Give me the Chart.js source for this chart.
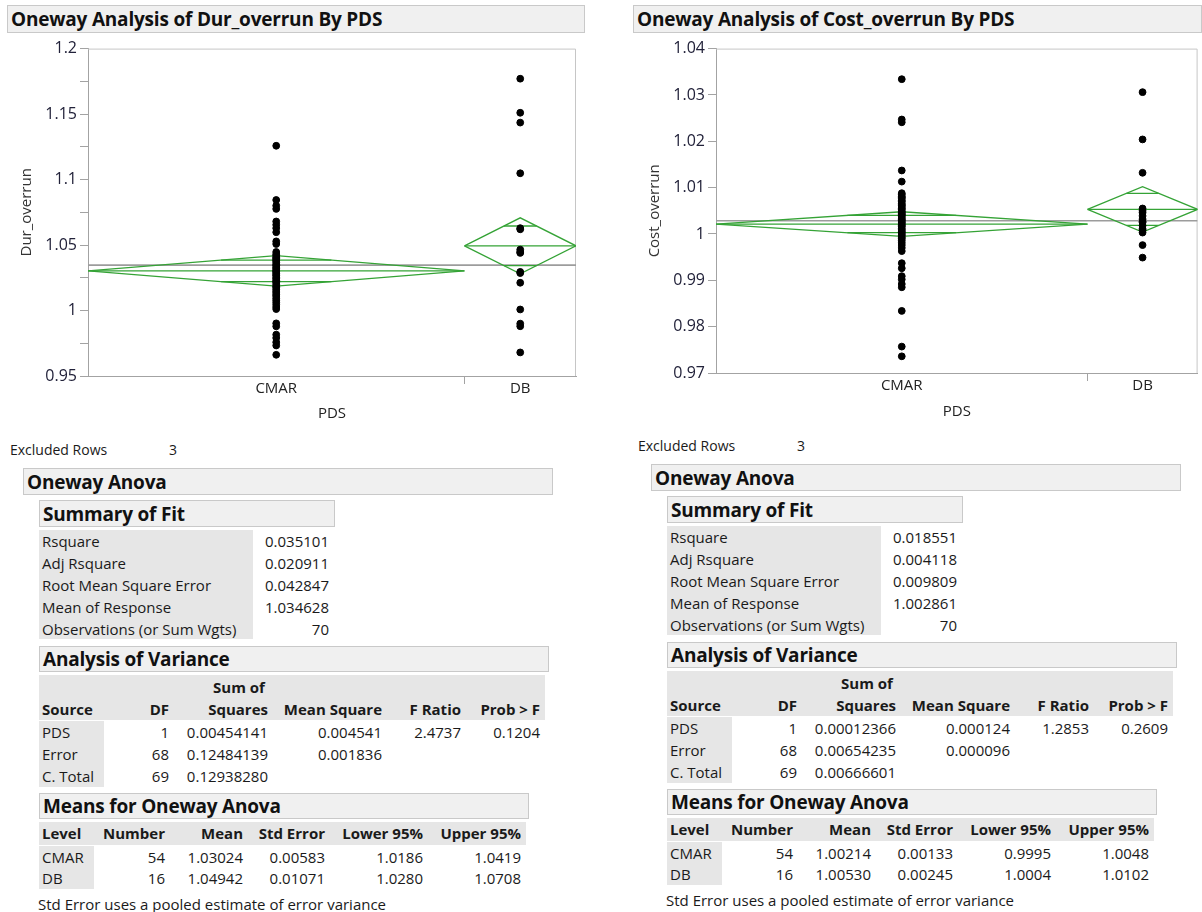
<!DOCTYPE html>
<html>
<head>
<meta charset="utf-8">
<script src="https://cdn.jsdelivr.net/npm/chart.js@4.4.1/dist/chart.umd.min.js"></script>
<style>
  html, body { margin: 0; padding: 0; background: #fff; }
  body { width: 1202px; height: 912px; position: relative; overflow: hidden;
         font-family: "Open Sans", "Noto Sans", sans-serif; color: #1a1a1a; }
  .bar { position: absolute; background: #f0f0f0; border: 1px solid #c9c9c9; box-sizing: border-box; }
  .bar span { position: absolute; left: 3px; top: 50%; transform: translateY(-50%);
              font-weight: 700; font-size: 19px; letter-spacing: -0.2px; white-space: nowrap; color: #111; }
  .gray { position: absolute; background: #e6e6e6; }
  .t { position: absolute; white-space: nowrap; font-size: 15px; line-height: 1; }
  .chartbox { position: absolute; }
</style>
</head>
<body>
<div class="chartbox" style="left:0px; top:36px;"><canvas id="durChart" width="592" height="400"></canvas></div>
<div class="chartbox" style="left:628px; top:36px;"><canvas id="costChart" width="574" height="400"></canvas></div>
<script>
// ---------- data ----------
const groups = ["CMAR", "DB"];
const groupCounts = [54, 16];

// Dur_overrun by PDS
const durCMAR = [1.1258, 1.0844, 1.0801, 1.0776, 1.0680, 1.0655, 1.0629, 1.0598, 1.0528, 1.0508, 1.0447,
  1.0430, 1.0418, 1.0405, 1.0398, 1.0386, 1.0379, 1.0366, 1.0352, 1.0344, 1.0331, 1.0322, 1.0310,
  1.0301, 1.0295, 1.0284, 1.0272, 1.0266, 1.0251, 1.0243, 1.0230, 1.0221, 1.0212, 1.0198, 1.0185,
  1.0176, 1.0162, 1.0148, 1.0135, 1.0121, 1.0110, 1.0093, 1.0078, 1.0062, 1.0045, 1.0027,
  1.0011, 0.9902, 0.9879, 0.9816, 0.9791, 0.9758, 0.9733, 0.9662];
const durDB = [1.1770, 1.1510, 1.1435, 1.1048, 1.0629, 1.0620, 1.0465, 1.0447, 1.0440, 1.0295,
  1.0286, 1.0212, 1.0008, 0.9900, 0.9880, 0.9680];
const durGrandMean = 1.034628;
const durMeans = [1.03024, 1.04942];
const durLower95 = [1.0186, 1.0280];
const durUpper95 = [1.0419, 1.0708];
const durStdErr = ["0.00583", "0.01071"];
const durYRange = [0.95, 1.2];
const durYStep = 0.025;   // labels every 0.05, minor ticks between

// Cost_overrun by PDS
const costCMAR = [1.0334, 1.0247, 1.0241, 1.0137, 1.0113,
  1.0088, 1.0085, 1.0081, 1.0079, 1.0076, 1.0072, 1.0070, 1.0066, 1.0063, 1.0061,
  1.0058, 1.0055, 1.0053, 1.0049, 1.0047, 1.0044, 1.0042, 1.0040, 1.0037, 1.0034,
  1.0031, 1.0029, 1.0026, 1.0024, 1.0021, 1.0018, 1.0016, 1.0012, 1.0009, 1.0006,
  1.0003, 1.0000, 0.9997, 0.9993, 0.9990, 0.9986, 0.9981, 0.9976, 0.9970, 0.9963,
  0.9937, 0.9926, 0.9909, 0.9902, 0.9892, 0.9885, 0.9834, 0.9757, 0.9736];
const costDB = [1.0306, 1.0204, 1.0132, 1.0055, 1.0050, 1.0046, 1.0039, 1.0032, 1.0027, 1.0025,
  1.0018, 1.0011, 1.0008, 1.0003, 0.9976, 0.9949];
const costGrandMean = 1.002861;
const costMeans = [1.00214, 1.00530];
const costLower95 = [0.9995, 1.0004];
const costUpper95 = [1.0048, 1.0102];
const costStdErr = ["0.00133", "0.00245"];
const costYRange = [0.97, 1.04];
const costYStep = 0.01;

// report tables
const fitLabels = ["Rsquare", "Adj Rsquare", "Root Mean Square Error", "Mean of Response", "Observations (or Sum Wgts)"];
const durFit = ["0.035101", "0.020911", "0.042847", "1.034628", "70"];
const costFit = ["0.018551", "0.004118", "0.009809", "1.002861", "70"];
const anovaSources = ["PDS", "Error", "C. Total"];
const anovaDF = ["1", "68", "69"];
const durSS = ["0.00454141", "0.12484139", "0.12938280"];
const durMS = ["0.004541", "0.001836", ""];
const durFRatio = ["2.4737", "", ""];
const durProb = ["0.1204", "", ""];
const costSS = ["0.00012366", "0.00654235", "0.00666601"];
const costMS = ["0.000124", "0.000096", ""];
const costFRatio = ["1.2853", "", ""];
const costProb = ["0.2609", "", ""];
const excludedRows = 3;

// ---------- charts ----------
const GREEN = "#35a336";
const AXIS = "#a3a3a3";

const framePlugin = {
  id: "frame",
  beforeDatasetsDraw(chart) {
    const a = chart.chartArea, c = chart.ctx;
    c.save();
    c.strokeStyle = "#c6c6c6";
    c.lineWidth = 1;
    c.beginPath();
    c.moveTo(a.left, a.top + 0.5);
    c.lineTo(a.right - 0.5, a.top + 0.5);
    c.lineTo(a.right - 0.5, a.bottom);
    c.stroke();
    c.restore();
  }
};

function lineSet(points, color, width, order) {
  return { data: points, showLine: true, borderColor: color, borderWidth: width,
           pointRadius: 0, pointHoverRadius: 0, fill: false, tension: 0, order };
}

function onewayChart(id, cfg) {
  const total = cfg.counts.reduce((a, b) => a + b, 0);
  const starts = [];
  let acc = 0;
  cfg.counts.forEach((n) => { starts.push(acc); acc += n; });
  const centers = cfg.counts.map((n, i) => starts[i] + n / 2);
  const separators = starts.slice(1);

  const datasets = [];
  cfg.values.forEach((vals, i) => {
    datasets.push({ data: vals.map((v) => ({ x: centers[i], y: v })),
      backgroundColor: "#000", borderColor: "#000", pointRadius: 3.4, pointHoverRadius: 3.4, order: 0 });
  });
  cfg.counts.forEach((n, i) => {
    const l = starts[i], r = starts[i] + n, c = centers[i];
    const m = cfg.means[i], lo = cfg.lower[i], hi = cfg.upper[i];
    // means diamond
    datasets.push(lineSet([{ x: l, y: m }, { x: c, y: hi }, { x: r, y: m }, { x: c, y: lo }, { x: l, y: m }], GREEN, 1.3, 1));
    datasets.push(lineSet([{ x: l, y: m }, { x: r, y: m }], GREEN, 1.3, 1));
    // overlap marks
    const k = (n / 2) * (1 - Math.SQRT1_2);
    const up = m + (hi - m) * Math.SQRT1_2, dn = m - (m - lo) * Math.SQRT1_2;
    datasets.push(lineSet([{ x: c - k, y: up }, { x: c + k, y: up }], GREEN, 1.3, 1));
    datasets.push(lineSet([{ x: c - k, y: dn }, { x: c + k, y: dn }], GREEN, 1.3, 1));
  });
  datasets.push(lineSet([{ x: 0, y: cfg.grandMean }, { x: total, y: cfg.grandMean }], "#9c9c9c", 1.6, 2));

  const isMajor = (v) => Math.abs(v / cfg.labelStep - Math.round(v / cfg.labelStep)) < 1e-6;

  return new Chart(document.getElementById(id), {
    type: "scatter",
    data: { datasets },
    plugins: [framePlugin],
    options: {
      responsive: false,
      animation: false,
      events: [],
      layout: { padding: { top: cfg.padTop, right: cfg.padRight, left: 0, bottom: 0 } },
      plugins: { legend: { display: false }, tooltip: { enabled: false } },
      scales: {
        x: {
          type: "linear", min: 0, max: total,
          afterBuildTicks: (s) => {
            s.ticks = centers.concat(separators).sort((a, b) => a - b).map((v) => ({ value: v }));
          },
          afterFit: (s) => { s.height = cfg.xAxisHeight; },
          ticks: {
            autoSkip: false, maxRotation: 0, padding: -4, color: "#222",
            font: { family: "Open Sans", size: 15 },
            callback: (v) => { const i = centers.indexOf(v); return i >= 0 ? cfg.groups[i] : ""; }
          },
          grid: {
            drawOnChartArea: false, drawTicks: true, tickLength: 8,
            tickColor: (ctx) => (ctx.tick && separators.includes(ctx.tick.value) ? AXIS : "rgba(0,0,0,0)")
          },
          border: { color: AXIS, width: 1 },
          title: { display: true, text: cfg.xTitle, color: "#222",
                   font: { family: "Open Sans", size: 15 }, padding: { top: 0, bottom: cfg.xTitlePad } }
        },
        y: {
          min: cfg.yRange[0], max: cfg.yRange[1],
          afterFit: (s) => { s.width = 88; },
          ticks: {
            stepSize: cfg.yStep, autoSkip: false, padding: 3, color: "#22223a",
            font: { family: "Open Sans", size: 16 },
            callback: (v) => (isMajor(v) ? String(Number(v.toFixed(4))) : "")
          },
          grid: { drawOnChartArea: false, drawTicks: true, tickLength: 8, tickColor: AXIS },
          border: { color: AXIS, width: 1 },
          title: { display: true, text: cfg.yTitle, color: "#333",
                   font: { family: "Open Sans", size: 15 }, padding: { top: 18, bottom: 0 } }
        }
      }
    }
  });
}

onewayChart("durChart", {
  groups, counts: groupCounts, values: [durCMAR, durDB],
  means: durMeans, lower: durLower95, upper: durUpper95, grandMean: durGrandMean,
  yRange: durYRange, yStep: durYStep, labelStep: 0.05,
  yTitle: "Dur_overrun", xTitle: "PDS",
  padTop: 10, padRight: 16, xAxisHeight: 60, xTitlePad: 13
});

onewayChart("costChart", {
  groups, counts: groupCounts, values: [costCMAR, costDB],
  means: costMeans, lower: costLower95, upper: costUpper95, grandMean: costGrandMean,
  yRange: costYRange, yStep: costYStep, labelStep: 0.01,
  yTitle: "Cost_overrun", xTitle: "PDS",
  padTop: 10, padRight: 2, xAxisHeight: 63, xTitlePad: 15
});

// ---------- report text ----------
function box(cls, x, y, w, h) {
  const d = document.createElement("div");
  d.className = cls;
  Object.assign(d.style, { left: x + "px", top: y + "px", width: w + "px", height: h + "px" });
  document.body.appendChild(d);
  return d;
}
function bar(x, y, w, h, title) {
  const d = box("bar", x, y, w, h);
  const s = document.createElement("span");
  s.textContent = title;
  d.appendChild(s);
}
function txt(x, yc, s, align, extra) {
  const d = document.createElement("div");
  d.className = "t";
  d.textContent = s;
  d.style.left = x + "px";
  d.style.top = yc + "px";
  const tx = align === "right" ? "-100%" : align === "center" ? "-50%" : "0";
  d.style.transform = "translate(" + tx + ", -50%)";
  if (extra) Object.assign(d.style, extra);
  document.body.appendChild(d);
}
const B = { fontWeight: "700" };

function report(dx, dy, r) {
  txt(10 + dx, 450 + dy, "Excluded Rows", "left", { fontSize: "14px" });
  txt(169 + dx, 450 + dy, String(excludedRows), "left", { fontSize: "14px" });

  bar(23 + dx, 468 + dy, 530, 27, "Oneway Anova");

  // summary of fit
  bar(39 + dx, 500 + dy, 296, 27, "Summary of Fit");
  box("gray", 39 + dx, 530 + dy, 214, 109);
  fitLabels.forEach((l, i) => {
    txt(42 + dx, 541 + dy + 22 * i, l);
    txt(329 + dx, 541 + dy + 22 * i, r.fit[i], "right");
  });

  // analysis of variance
  bar(39 + dx, 646 + dy, 510, 26, "Analysis of Variance");
  box("gray", 39 + dx, 675 + dy, 506, 45);
  txt(239 + dx, 687 + dy, "Sum of", "center", B);
  const h2 = 709 + dy;
  txt(42 + dx, h2, "Source", "left", B);
  txt(169 + dx, h2, "DF", "right", B);
  txt(268 + dx, h2, "Squares", "right", B);
  txt(382 + dx, h2, "Mean Square", "right", B);
  txt(461 + dx, h2, "F Ratio", "right", B);
  txt(540 + dx, h2, "Prob > F", "right", B);
  box("gray", 39 + dx, 721 + dy, 65, 66);
  anovaSources.forEach((s, i) => {
    const y = 732 + dy + 22 * i;
    txt(42 + dx, y, s);
    txt(169 + dx, y, anovaDF[i], "right");
    txt(268 + dx, y, r.ss[i], "right");
    txt(382 + dx, y, r.ms[i], "right");
    txt(461 + dx, y, r.f[i], "right");
    txt(540 + dx, y, r.p[i], "right");
  });

  // means for oneway anova
  bar(39 + dx, 793 + dy, 490, 26, "Means for Oneway Anova");
  box("gray", 39 + dx, 822 + dy, 487, 23);
  const hy = 833 + dy;
  txt(42 + dx, hy, "Level", "left", B);
  txt(165 + dx, hy, "Number", "right", B);
  txt(243 + dx, hy, "Mean", "right", B);
  txt(325 + dx, hy, "Std Error", "right", B);
  txt(423 + dx, hy, "Lower 95%", "right", B);
  txt(521 + dx, hy, "Upper 95%", "right", B);
  box("gray", 39 + dx, 846 + dy, 55, 43);
  groups.forEach((g, i) => {
    const y = 857 + dy + 21 * i;
    txt(42 + dx, y, g);
    txt(165 + dx, y, String(groupCounts[i]), "right");
    txt(243 + dx, y, r.means[i].toFixed(5), "right");
    txt(325 + dx, y, r.se[i], "right");
    txt(423 + dx, y, r.lower[i].toFixed(4), "right");
    txt(521 + dx, y, r.upper[i].toFixed(4), "right");
  });
  txt(38 + dx, 904 + dy, "Std Error uses a pooled estimate of error variance");
}

bar(7, 5, 578, 28, "Oneway Analysis of Dur_overrun By PDS");
bar(633, 5, 569, 28, "Oneway Analysis of Cost_overrun By PDS");

report(0, 0, { fit: durFit, ss: durSS, ms: durMS, f: durFRatio, p: durProb,
  means: durMeans, se: durStdErr, lower: durLower95, upper: durUpper95 });
report(628, -4, { fit: costFit, ss: costSS, ms: costMS, f: costFRatio, p: costProb,
  means: costMeans, se: costStdErr, lower: costLower95, upper: costUpper95 });
</script>
</body>
</html>
